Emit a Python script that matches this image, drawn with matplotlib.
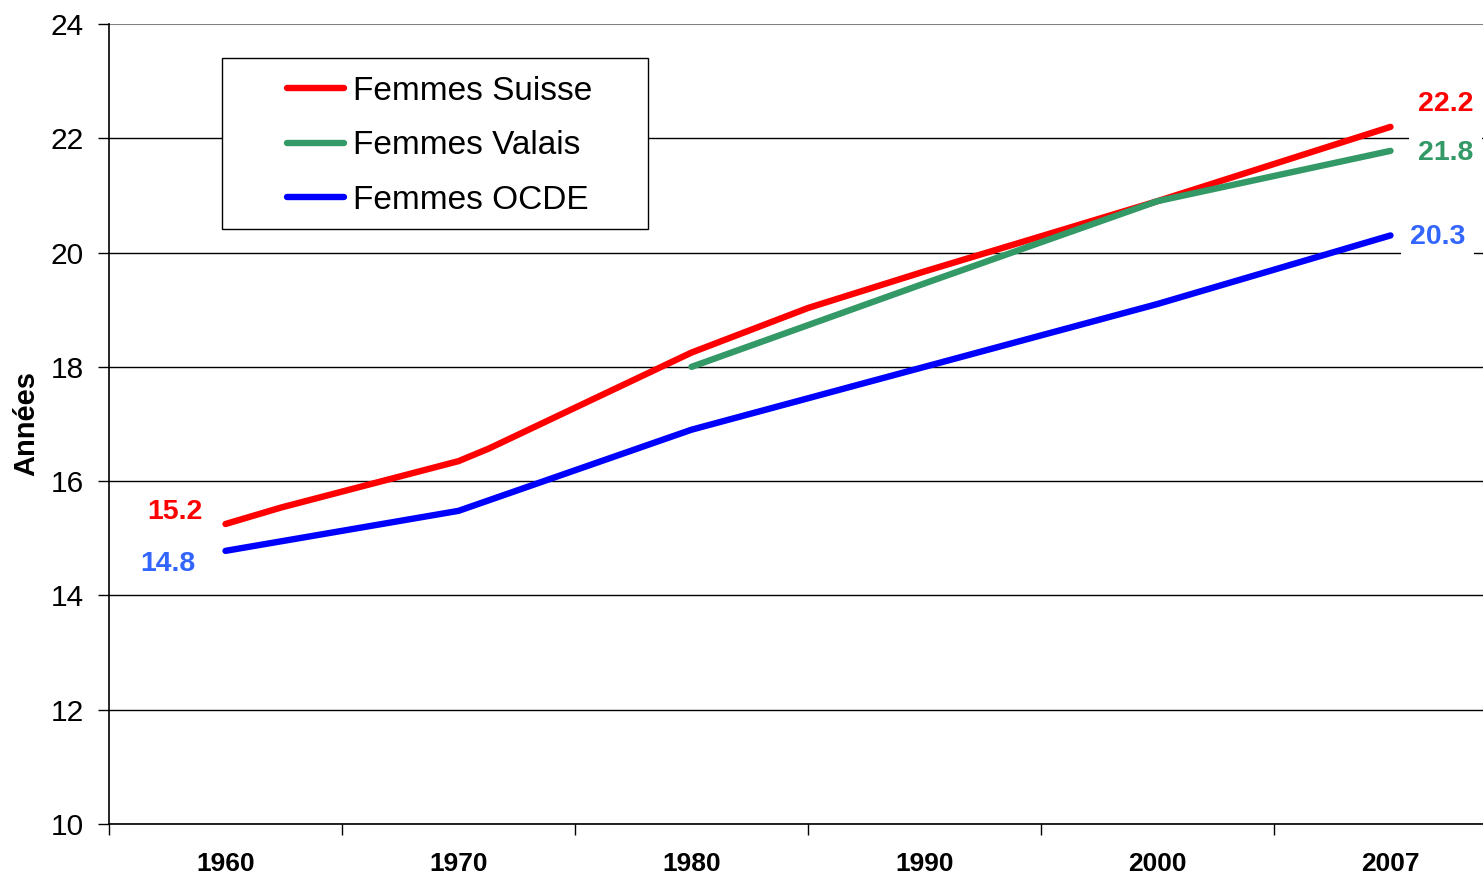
import numpy as np
import matplotlib
matplotlib.use("Agg")
import matplotlib.pyplot as plt
from matplotlib.patches import Rectangle

plt.rcParams['font.family'] = ['Liberation Sans', 'DejaVu Sans']

# Category axis (labelled years, equally spaced)
categories = ['1960', '1970', '1980', '1990', '2000', '2007']
cat_years = [1960, 1970, 1980, 1990, 2000, 2007]

# Series (year, value)
suisse_years = [1960, 1962.4, 1970, 1971.3, 1980, 1985, 1990, 2000, 2007]
suisse_vals = [15.25, 15.54, 16.35, 16.57, 18.25, 19.03, 19.67, 20.9, 22.2]

valais_years = [1980, 1990, 2000, 2007]
valais_vals = [18.0, 19.46, 20.9, 21.78]

ocde_years = [1960, 1970, 1980, 1990, 2000, 2007]
ocde_vals = [14.78, 15.48, 16.9, 18.0, 19.1, 20.3]

# Printed end-point labels
start_labels = ['15.2', '14.8']
end_labels = ['22.2', '21.8', '20.3']

labels = ['Femmes Suisse', 'Femmes Valais', 'Femmes OCDE']
colors = ['#FF0000', '#339966', '#0000FF']
label_colors = ['#FF0000', '#339966', '#3366FF']

def to_cat(years):
    return np.interp(years, cat_years, np.arange(len(cat_years)))

W, H = 1483, 877
fig = plt.figure(figsize=(W / 100, H / 100), dpi=100)
ax = fig.add_axes([109 / W, (H - 824) / H, 1398 / W, 800 / H])

series = [(suisse_years, suisse_vals), (valais_years, valais_vals), (ocde_years, ocde_vals)]
handles = []
for (yrs, vals), c, lab in zip(series, colors, labels):
    h, = ax.plot(to_cat(yrs), vals, color=c, lw=4.6, solid_capstyle='round',
                 solid_joinstyle='round', label=lab, zorder=3)
    handles.append(h)

ax.set_xlim(-0.5, len(categories) - 0.5)
ax.set_ylim(10, 24)
ax.set_yticks(np.arange(10, 25, 2))
ax.set_xticks(np.arange(len(categories)))
ax.set_xticklabels(categories, fontsize=19, fontweight='bold')
ax.set_xticks(np.arange(len(categories)) - 0.5, minor=True)
ax.tick_params(axis='x', which='major', length=0, pad=20)
ax.tick_params(axis='x', which='minor', length=8, width=1, direction='out', color='black')
ax.tick_params(axis='y', length=8, width=1, direction='out', labelsize=21.5, pad=10)
ax.grid(axis='y', color='black', lw=1)
ax.get_ygridlines()[-1].set_color('#808080')
ax.get_ygridlines()[-1].set_linewidth(1.5)
ax.set_axisbelow(True)
for s in ['top', 'right']:
    ax.spines[s].set_visible(False)
for s in ['left', 'bottom']:
    ax.spines[s].set_color('black')
    ax.spines[s].set_linewidth(1.2)
ax.set_ylabel('Années', fontsize=21, fontweight='bold')
ax.yaxis.set_label_coords((40 - 109) / 1398, 0.5)

# End-point value labels
def lab(x, y, txt, color, dx, dy):
    ax.annotate(txt, (x, y), xytext=(dx * 0.72, dy * 0.72), textcoords='offset points',
                ha='center', va='center', fontsize=20.5, fontweight='bold', color=color,
                bbox=dict(boxstyle='square,pad=0.3', fc='white', ec='none'), zorder=4)

lab(to_cat(suisse_years[0]), suisse_vals[0], start_labels[0], label_colors[0], -51, 12)
lab(to_cat(ocde_years[0]), ocde_vals[0], start_labels[1], label_colors[2], -58, -13)
lab(to_cat(suisse_years[-1]), suisse_vals[-1], end_labels[0], label_colors[0], 55, 23)
lab(to_cat(valais_years[-1]), valais_vals[-1], end_labels[1], label_colors[1], 55, -2)
lab(to_cat(ocde_years[-1]), ocde_vals[-1], end_labels[2], label_colors[2], 47, -2)

# Legend
frame = Rectangle((222 / W, 1 - 229 / H), (648 - 222) / W, (229 - 58) / H,
                  transform=fig.transFigure, fc='white', ec='black', lw=1, zorder=4)
ax.add_patch(frame)
leg = ax.legend(handles=handles, loc='upper left', frameon=False,
                bbox_to_anchor=(287 / W, 1 - 76 / H), bbox_transform=fig.transFigure,
                borderaxespad=0, borderpad=0, fontsize=24, handlelength=1.72,
                handletextpad=0.25, labelspacing=0.7)
leg.set_zorder(5)

fig.savefig('out.png', dpi=100)
